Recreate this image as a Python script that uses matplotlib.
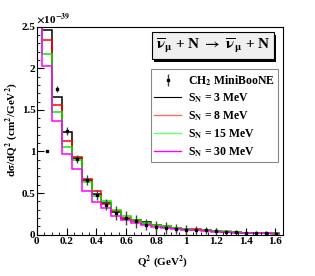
import numpy as np
import matplotlib
matplotlib.use("Agg")
import matplotlib.pyplot as plt
from matplotlib.ticker import MultipleLocator
from matplotlib.lines import Line2D
from matplotlib.patches import Rectangle

plt.rcParams['font.family'] = ['Liberation Serif', 'DejaVu Serif']
plt.rcParams['font.weight'] = 'bold'
plt.rcParams['mathtext.fontset'] = 'stix'
plt.rcParams['mathtext.default'] = 'bf'

# bin edges (GeV^2); first bin [0, 0.033] is off scale
edges = [0.0] + [0.0333 + 0.0667 * k for k in range(25)]

sn3 = [3.0, 2.46, 1.65, 1.23, 0.92, 0.66, 0.49, 0.38, 0.27, 0.19, 0.17, 0.15, 0.11,
       0.09, 0.08, 0.07, 0.06, 0.05, 0.04, 0.035, 0.03, 0.025, 0.02, 0.017, 0.015]
sn8 = [3.0, 2.34, 1.56, 1.13, 0.93, 0.67, 0.53, 0.37, 0.28, 0.20, 0.16, 0.13, 0.12,
       0.10, 0.08, 0.07, 0.065, 0.05, 0.045, 0.035, 0.03, 0.025, 0.02, 0.017, 0.014]
sn15 = [3.0, 2.17, 1.48, 1.05, 0.90, 0.63, 0.47, 0.40, 0.29, 0.22, 0.18, 0.14, 0.12,
        0.10, 0.08, 0.07, 0.06, 0.05, 0.045, 0.04, 0.03, 0.025, 0.02, 0.017, 0.015]
sn30 = [3.0, 2.03, 1.37, 0.97, 0.79, 0.53, 0.39, 0.32, 0.22, 0.17, 0.14, 0.11, 0.09,
        0.08, 0.065, 0.055, 0.05, 0.04, 0.035, 0.03, 0.025, 0.02, 0.017, 0.014, 0.012]

data_x = [0.0667 + 0.0667 * k for k in range(24)]
data_y = [1.00, 1.75, 1.25, 0.91, 0.66, 0.48, 0.36, 0.26, 0.20, 0.16, 0.12, 0.09,
          0.08, 0.07, 0.06, 0.05, 0.05, 0.04, 0.03, 0.03, 0.02, 0.02, 0.02, 0.01]
data_err = [0.0, 0.04, 0.05, 0.05, 0.06, 0.06, 0.07, 0.08, 0.08, 0.08, 0.07, 0.07,
            0.07, 0.06, 0.05, 0.05, 0.04, 0.04, 0.03, 0.03, 0.02, 0.02, 0.02, 0.02]

fig = plt.figure(figsize=(3.15, 2.76), dpi=100)
ax = fig.add_axes([0.117, 0.150, 0.781, 0.753])

lw = 1.1
ax.stairs(sn3, edges, color='black', lw=lw, baseline=None)
ax.stairs(sn8, edges, color='#ff0000', lw=lw, baseline=None)
ax.stairs(sn15, edges, color='#00ee00', lw=lw, baseline=None)
ax.stairs(sn30, edges, color='#ff00ff', lw=lw, baseline=None)
eb = ax.errorbar(data_x, data_y, yerr=data_err, fmt='s', ms=1.8,
                 color='black', ecolor='#444444', elinewidth=1.0, capsize=0)

ax.set_xlim(0, 1.65)
ax.set_ylim(0, 2.5)
ax.xaxis.set_minor_locator(MultipleLocator(0.05))
ax.yaxis.set_minor_locator(MultipleLocator(0.1))
ax.tick_params(which='both', direction='in', top=False, right=False, labelsize=8)
ax.tick_params(which='major', length=5)
ax.tick_params(which='minor', length=2.5)
ax.set_xticks([0, 0.2, 0.4, 0.6, 0.8, 1.0, 1.2, 1.4, 1.6])
ax.set_xticklabels(['0', '0.2', '0.4', '0.6', '0.8', '1', '1.2', '1.4', '1.6'])
ax.set_yticks([0, 0.5, 1.0, 1.5, 2.0, 2.5])
ax.set_yticklabels(['0', '0.5', '1', '1.5', '2', '2.5'])
for lab in ax.get_xticklabels() + ax.get_yticklabels():
    lab.set_fontweight('bold')
ax.tick_params(axis='x', pad=2)
ax.tick_params(axis='y', pad=1)

fig.text(0.113, 0.905, r'$\times$10$^{-39}$', fontsize=8, ha='left', va='bottom')
fig.text(0.038, 0.53, r'd$\mathrm{\sigma}$/dQ$^2$ (cm$^2$/GeV$^2$)', rotation=90,
         fontsize=8, ha='center', va='center', fontweight='bold')
fig.text(0.515, 0.05, r'Q$^2$ (GeV$^2$)', fontsize=8, ha='center', va='center',
         fontweight='bold')

# title box with shadow
shadow = Rectangle((0.490, 0.775), 0.385, 0.098, transform=fig.transFigure,
                   facecolor='black', edgecolor='none', zorder=5)
box = Rectangle((0.484, 0.785), 0.385, 0.098, transform=fig.transFigure,
                facecolor='#efefef', edgecolor='black', lw=0.8, zorder=6)
fig.patches.extend([shadow, box])
fig.text(0.676, 0.834, r'$\overline{\nu}_{\mu}$ + N $\rightarrow$ $\overline{\nu}_{\mu}$ + N',
         fontsize=11, ha='center', va='center', fontweight='bold', zorder=7)

handles = [
    eb,
    Line2D([0], [0], color='black', lw=0.8),
    Line2D([0], [0], color='#ff6666', lw=1.0),
    Line2D([0], [0], color='#66ff66', lw=1.0),
    Line2D([0], [0], color='#ff00ff', lw=1.0),
]
labels = [r'CH$_2$ MiniBooNE', r'S$_{\rm N}$ = 3 MeV', r'S$_{\rm N}$ = 8 MeV',
          r'S$_{\rm N}$ = 15 MeV', r'S$_{\rm N}$ = 30 MeV']
leg = ax.legend(handles, labels, loc='upper right', bbox_to_anchor=(0.981, 0.795),
                frameon=True, fancybox=False, framealpha=1,
                edgecolor='#888888', borderpad=0.3, labelspacing=0.33,
                handlelength=2.3, handletextpad=0.55, borderaxespad=0,
                prop={'weight': 'bold', 'size': 8.5})
leg.get_frame().set_linewidth(0.8)

fig.savefig('out.png', dpi=100)
